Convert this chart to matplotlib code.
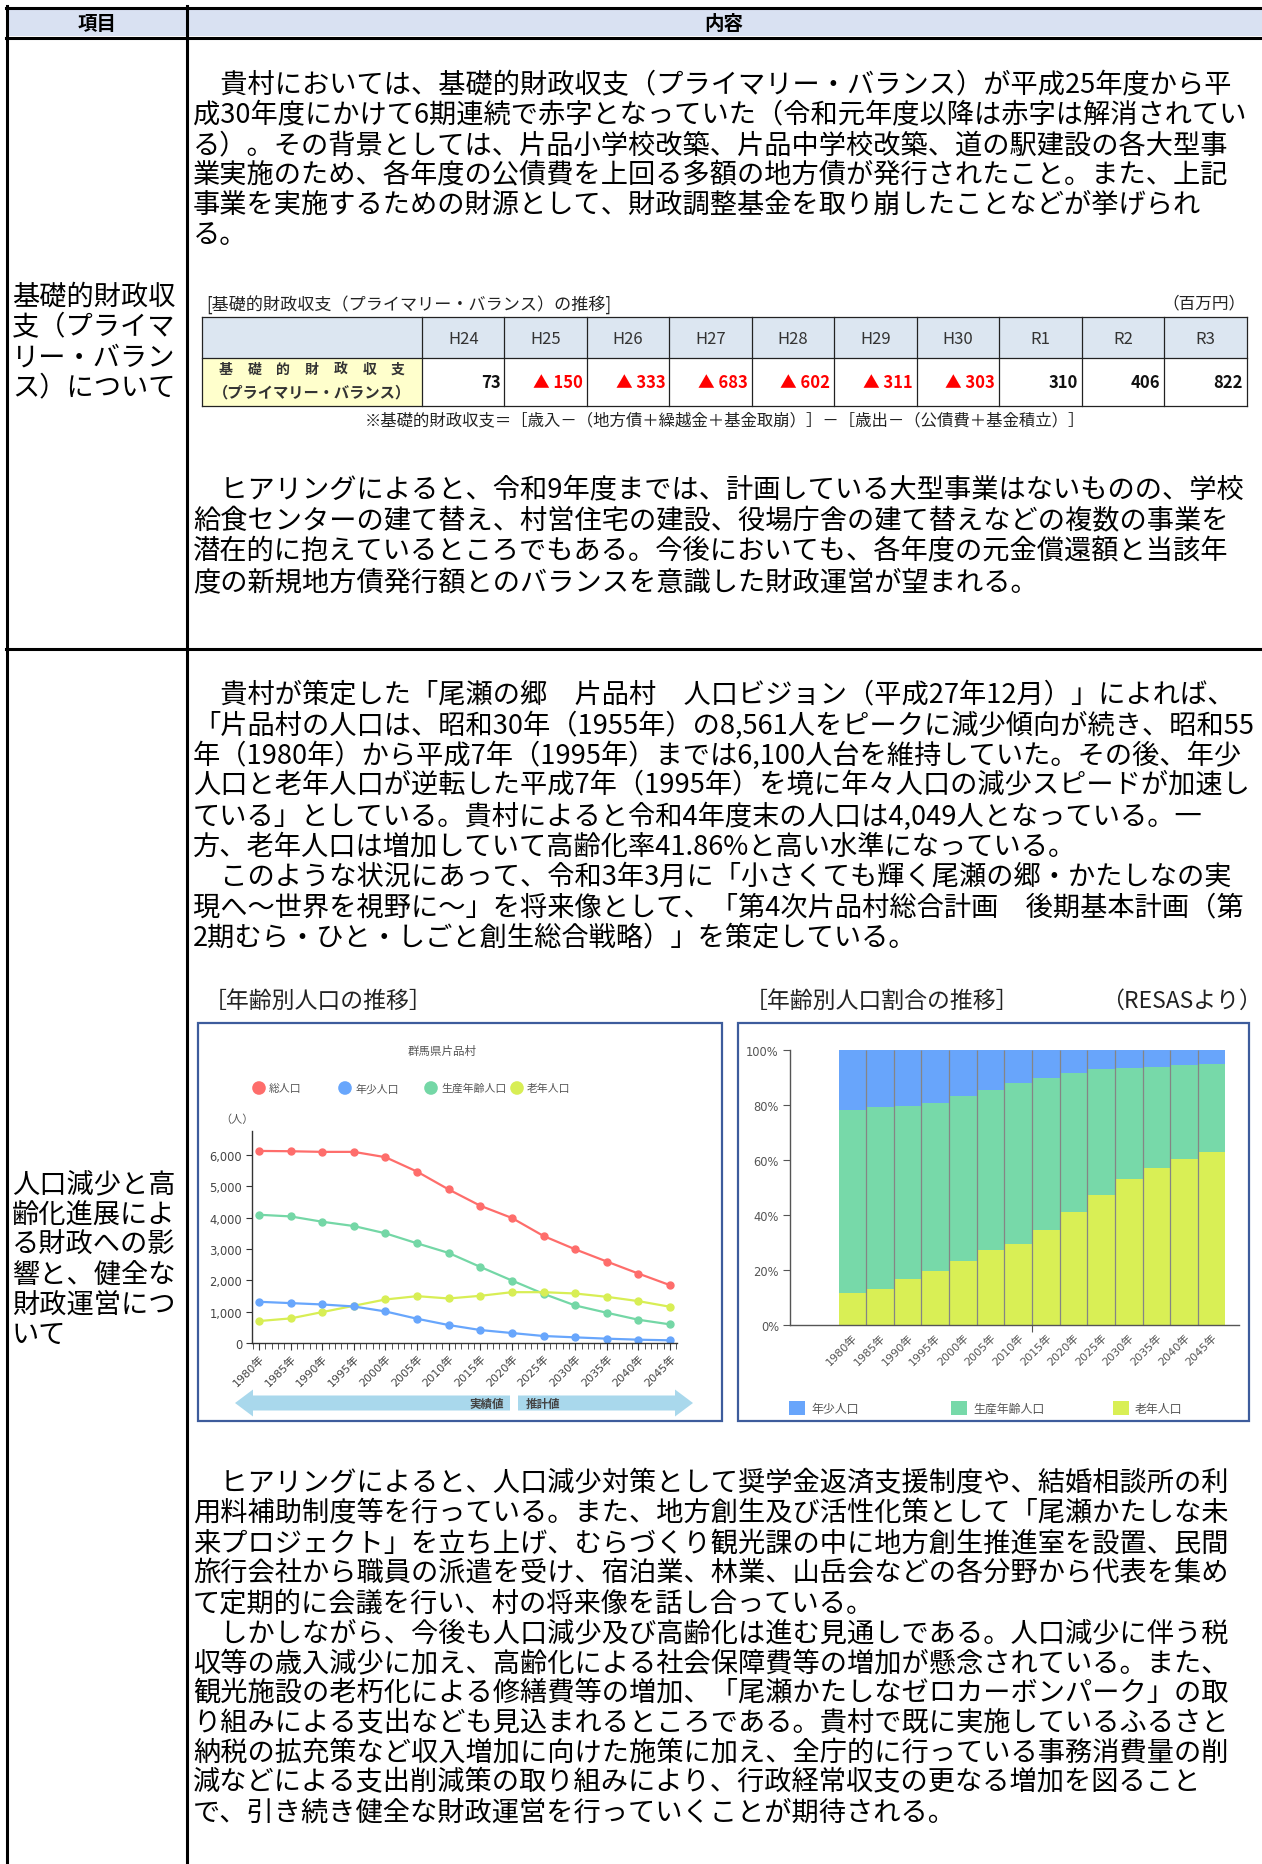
import matplotlib
matplotlib.use("Agg")
import matplotlib.pyplot as plt
from matplotlib.patches import Rectangle, Polygon, Circle
from matplotlib.ticker import MultipleLocator, FixedLocator
import numpy as np

plt.rcParams['font.family'] = ['Noto Sans CJK JP', 'DejaVu Sans']

W, H = 1262, 1865

# ---- data ----
fy_labels = ["H24", "H25", "H26", "H27", "H28", "H29", "H30", "R1", "R2", "R3"]
primary_balance = [73, -150, -333, -683, -602, -311, -303, 310, 406, 822]

years = [1980, 1985, 1990, 1995, 2000, 2005, 2010, 2015, 2020, 2025, 2030, 2035, 2040, 2045]
pop_total = [6130, 6120, 6100, 6100, 5930, 5470, 4900, 4380, 3990, 3415, 2990, 2600, 2216, 1845]
pop_young = [1315, 1273, 1230, 1166, 1007, 774, 573, 414, 318, 223, 180, 138, 106, 85]
pop_working = [4093, 4040, 3870, 3733, 3500, 3181, 2874, 2428, 1994, 1570, 1198, 965, 742, 594]
pop_old = [700, 785, 986, 1188, 1389, 1495, 1421, 1506, 1622, 1622, 1580, 1474, 1336, 1156]

ratio_young = [21.8, 20.9, 20.4, 19.4, 16.9, 14.4, 12.1, 10.1, 8.5, 7.0, 6.5, 6.0, 5.5, 5.0]
ratio_working = [66.7, 66.1, 63.0, 61.1, 59.7, 58.2, 58.5, 55.2, 50.4, 45.9, 40.5, 36.9, 34.0, 32.2]
ratio_old = [11.5, 13.0, 16.6, 19.5, 23.4, 27.4, 29.4, 34.7, 41.1, 47.1, 53.0, 57.1, 60.5, 62.8]

row1_label = ["基礎的財政収", "支（プライマ", "リー・バラン", "ス）について"]
row2_label = ["人口減少と高", "齢化進展によ", "る財政への影", "響と、健全な", "財政運営につ", "いて"]

para1 = [
    "　貴村においては、基礎的財政収支（プライマリー・バランス）が平成25年度から平",
    "成30年度にかけて6期連続で赤字となっていた（令和元年度以降は赤字は解消されてい",
    "る）。その背景としては、片品小学校改築、片品中学校改築、道の駅建設の各大型事",
    "業実施のため、各年度の公債費を上回る多額の地方債が発行されたこと。また、上記",
    "事業を実施するための財源として、財政調整基金を取り崩したことなどが挙げられ",
    "る。",
]
para2 = [
    "　ヒアリングによると、令和9年度までは、計画している大型事業はないものの、学校",
    "給食センターの建て替え、村営住宅の建設、役場庁舎の建て替えなどの複数の事業を",
    "潜在的に抱えているところでもある。今後においても、各年度の元金償還額と当該年",
    "度の新規地方債発行額とのバランスを意識した財政運営が望まれる。",
]
para3 = [
    "　貴村が策定した「尾瀬の郷　片品村　人口ビジョン（平成27年12月）」によれば、",
    "「片品村の人口は、昭和30年（1955年）の8,561人をピークに減少傾向が続き、昭和55",
    "年（1980年）から平成7年（1995年）までは6,100人台を維持していた。その後、年少",
    "人口と老年人口が逆転した平成7年（1995年）を境に年々人口の減少スピードが加速し",
    "ている」としている。貴村によると令和4年度末の人口は4,049人となっている。一",
    "方、老年人口は増加していて高齢化率41.86%と高い水準になっている。",
    "　このような状況にあって、令和3年3月に「小さくても輝く尾瀬の郷・かたしなの実",
    "現へ～世界を視野に～」を将来像として、「第4次片品村総合計画　後期基本計画（第",
    "2期むら・ひと・しごと創生総合戦略）」を策定している。",
]
para4 = [
    "　ヒアリングによると、人口減少対策として奨学金返済支援制度や、結婚相談所の利",
    "用料補助制度等を行っている。また、地方創生及び活性化策として「尾瀬かたしな未",
    "来プロジェクト」を立ち上げ、むらづくり観光課の中に地方創生推進室を設置、民間",
    "旅行会社から職員の派遣を受け、宿泊業、林業、山岳会などの各分野から代表を集め",
    "て定期的に会議を行い、村の将来像を話し合っている。",
    "　しかしながら、今後も人口減少及び高齢化は進む見通しである。人口減少に伴う税",
    "収等の歳入減少に加え、高齢化による社会保障費等の増加が懸念されている。また、",
    "観光施設の老朽化による修繕費等の増加、「尾瀬かたしなゼロカーボンパーク」の取",
    "り組みによる支出なども見込まれるところである。貴村で既に実施しているふるさと",
    "納税の拡充策など収入増加に向けた施策に加え、全庁的に行っている事務消費量の削",
    "減などによる支出削減策の取り組みにより、行政経常収支の更なる増加を図ること",
    "で、引き続き健全な財政運営を行っていくことが期待される。",
]

C_RED, C_BLUE, C_GREEN, C_YEL = '#fe6d6b', '#68a6fc', '#74d7a6', '#d8ee55'
BODY_FS = 19.6
LINE_H = 30.0


def px_axes(fig, x0, y0, x1, y1):
    return fig.add_axes([x0 / W, 1 - y1 / H, (x1 - x0) / W, (y1 - y0) / H])


fig = plt.figure(figsize=(W / 100, H / 100), dpi=100)
fig.patch.set_facecolor('white')

ov = fig.add_axes([0, 0, 1, 1])
ov.set_xlim(0, W)
ov.set_ylim(H, 0)
ov.axis('off')
ov.set_zorder(0)

# ---- frame ----
ov.add_patch(Rectangle((8, 10), W - 8, 27, facecolor='#d9e1f2', edgecolor='none'))
lw = 2.2
ov.plot([6, W], [8.5, 8.5], color='black', lw=lw)
ov.plot([6, W], [38.5, 38.5], color='black', lw=lw)
ov.plot([6, W], [649.5, 649.5], color='black', lw=lw)
ov.plot([7, 7], [7, H], color='black', lw=lw)
ov.plot([186.5, 186.5], [7, H], color='black', lw=lw)
ov.text(97, 24, "項目", ha='center', va='center', fontsize=14, fontweight='bold')
ov.text(724, 24, "内容", ha='center', va='center', fontsize=14, fontweight='bold')

for i, s in enumerate(row1_label):
    ov.text(12, 297 + i * 30.3, s, ha='left', va='center', fontsize=BODY_FS)
for i, s in enumerate(row2_label):
    ov.text(12, 1185 + i * 30.1, s, ha='left', va='center', fontsize=BODY_FS)


def body(lines, y0, step=LINE_H):
    for i, s in enumerate(lines):
        ov.text(193, y0 + i * step, s, ha='left', va='center', fontsize=BODY_FS)


body(para1, 85.6, 30.0)
body(para2, 491, 30.6)
body(para3, 695, 30.4)
body(para4, 1484, 29.9)

# ---- primary balance table ----
ov.text(206, 305, "[基礎的財政収支（プライマリー・バランス）の推移]", ha='left', va='center',
        fontsize=12.3, color='#222')
ov.text(1246, 304, "（百万円）", ha='right', va='center', fontsize=12, color='#222')
t_left, t_lab, t_right = 202, 422, 1246.5
t_top, t_mid, t_bot = 318, 359, 407
colw = (t_right - t_lab) / len(fy_labels)
ov.add_patch(Rectangle((t_left, t_top), t_right - t_left, t_mid - t_top, facecolor='#dce6f1', edgecolor='none'))
ov.add_patch(Rectangle((t_left, t_mid), t_lab - t_left, t_bot - t_mid, facecolor='#ffffcc', edgecolor='none'))
tcol = '#222'
for yy in (t_top, t_mid, t_bot):
    ov.plot([t_left, t_right], [yy, yy], color=tcol, lw=0.9)
ov.plot([t_left, t_left], [t_top, t_bot], color=tcol, lw=0.9)
for j in range(len(fy_labels) + 1):
    xx = t_lab + j * colw
    ov.plot([xx, xx], [t_top, t_bot], color=tcol, lw=0.9)
for j, (lab, v) in enumerate(zip(fy_labels, primary_balance)):
    cx = t_lab + (j + 0.5) * colw
    ov.text(cx, 339, lab, ha='center', va='center', fontsize=12, color='#333')
    txt = f"▲ {abs(v)}" if v < 0 else f"{v}"
    ov.text(t_lab + (j + 1) * colw - 4, 383, txt, ha='right', va='center', fontsize=12,
            fontweight='bold', color='#ff0000' if v < 0 else '#111')
lab_chars = "基礎的財政収支"
for k, ch in enumerate(lab_chars):
    ov.text(226 + k * (172 / (len(lab_chars) - 1)), 370, ch, ha='center', va='center', fontsize=10,
            fontweight='bold', color='#333')
ov.text((t_left + t_lab) / 2, 392, "（プライマリー・バランス）", ha='center', va='center', fontsize=11,
        fontweight='bold', color='#333')
ov.text(725, 421, "※基礎的財政収支＝［歳入－（地方債＋繰越金＋基金取崩）］－［歳出－（公債費＋基金積立）］",
        ha='center', va='center', fontsize=11.8, color='#222')

# ---- chart headings and boxes ----
ov.text(204, 1001, "［年齢別人口の推移］", ha='left', va='center', fontsize=16.5, color='#222')
ov.text(745, 1001, "［年齢別人口割合の推移］", ha='left', va='center', fontsize=16.5, color='#222')
ov.text(1262, 1001, "（RESASより）", ha='right', va='center', fontsize=16.5, color='#222')
box_c = '#3d5c9c'
ov.add_patch(Rectangle((198, 1024), 524, 398, facecolor='white', edgecolor=box_c, lw=1.6))
ov.add_patch(Rectangle((738, 1024), 511, 398, facecolor='white', edgecolor=box_c, lw=1.6))

# left chart decorations
ov.text(442, 1051, "群馬県片品村", ha='center', va='center', fontsize=8.3, color='#555')
leg1 = [("総人口", C_RED), ("年少人口", C_BLUE), ("生産年齢人口", C_GREEN), ("老年人口", C_YEL)]
for k, (name, c) in enumerate(leg1):
    x0 = 259 + k * 86
    ov.add_patch(Circle((x0, 1089), 6.8, facecolor=c, edgecolor='none'))
    ov.text(x0 + 10, 1089, name, ha='left', va='center', fontsize=7.8, color='#555')
ov.text(237, 1120, "（人）", ha='center', va='center', fontsize=8, color='#555')

arrow_c = '#a9d8ec'
ov.add_patch(Polygon([(235, 1404), (253, 1390.5), (253, 1396.5), (510, 1396.5), (510, 1411.5),
                      (253, 1411.5), (253, 1417.5)], closed=True, facecolor=arrow_c, edgecolor='none'))
ov.add_patch(Polygon([(518, 1396.5), (675, 1396.5), (675, 1390.5), (693, 1404), (675, 1417.5),
                      (675, 1411.5), (518, 1411.5)], closed=True, facecolor=arrow_c, edgecolor='none'))
ov.text(504, 1404, "実績値", ha='right', va='center', fontsize=8.3, fontweight='bold', color='#444')
ov.text(526, 1404, "推計値", ha='left', va='center', fontsize=8.3, fontweight='bold', color='#444')

# right chart legend
leg2 = [("年少人口", '#68a5fb', 789), ("生産年齢人口", '#77d9a9', 951), ("老年人口", '#d9ef55', 1113)]
for name, c, x0 in leg2:
    ov.add_patch(Rectangle((x0, 1402), 16, 14, facecolor=c, edgecolor='none'))
    ov.text(x0 + 22, 1409, name, ha='left', va='center', fontsize=8.6, color='#555')

tick_family = ['DejaVu Sans', 'Noto Sans CJK JP']

# ---- left chart: population by age ----
ax1 = px_axes(fig, 252, 1132, 677, 1344)
ax1.set_zorder(2)
ax1.patch.set_alpha(0)
for vals, c in [(pop_working, C_GREEN), (pop_old, C_YEL), (pop_young, C_BLUE), (pop_total, C_RED)]:
    ax1.plot(years, vals, color=c, lw=1.6, marker='o', ms=5, mec=c, mfc=c)
ax1.set_xlim(1978.9, 2046.1)
ax1.set_ylim(0, 6766)
for s in ('top', 'right'):
    ax1.spines[s].set_visible(False)
for s in ('left', 'bottom'):
    ax1.spines[s].set_color('#333')
    ax1.spines[s].set_linewidth(1.0)
ax1.set_yticks([0, 1000, 2000, 3000, 4000, 5000, 6000])
ax1.set_yticklabels([f"{v:,}" for v in [0, 1000, 2000, 3000, 4000, 5000, 6000]], family=tick_family)
ax1.set_xticks(years)
ax1.set_xticklabels([f"{y}年" for y in years], rotation=45, ha='right', rotation_mode='anchor',
                    family=tick_family)
ax1.xaxis.set_minor_locator(MultipleLocator(1))
ax1.tick_params(axis='y', length=4, width=0.8, colors='#333', labelsize=8.3, labelcolor='#444', pad=3)
ax1.tick_params(axis='x', which='major', length=5, width=0.8, colors='#333', labelsize=8,
                labelcolor='#444', pad=2)
ax1.tick_params(axis='x', which='minor', length=4, width=0.6, colors='#333')

# ---- right chart: population share ----
ax2 = px_axes(fig, 790, 1051, 1239, 1326)
ax2.set_zorder(2)
ax2.patch.set_alpha(0)
x = np.arange(len(years))
old = np.array(ratio_old)
work = np.array(ratio_working)
ax2.bar(x, ratio_old, width=1.0, color='#d9ef55', linewidth=0)
ax2.bar(x, ratio_working, width=1.0, bottom=old, color='#77d9a9', linewidth=0)
ax2.bar(x, ratio_young, width=1.0, bottom=old + work, color='#68a5fb', linewidth=0)
ax2.vlines(x[:-1] + 0.5, 0, 100, color='#858585', lw=0.9)
ax2.set_xlim(-2.256, 13.99)
ax2.set_ylim(0, 100)
for s in ('top', 'right'):
    ax2.spines[s].set_visible(False)
for s in ('left', 'bottom'):
    ax2.spines[s].set_color('#555')
    ax2.spines[s].set_linewidth(1.0)
ax2.set_yticks([0, 20, 40, 60, 80, 100])
ax2.set_yticklabels([f"{v}%" for v in [0, 20, 40, 60, 80, 100]], family=tick_family)
ax2.set_xticks(x)
ax2.set_xticklabels([f"{y}年" for y in years], rotation=45, ha='right', rotation_mode='anchor',
                    family=tick_family)
ax2.xaxis.set_minor_locator(FixedLocator([6.5]))
ax2.tick_params(axis='y', length=5, width=0.8, colors='#555', labelsize=8.3, labelcolor='#555', pad=3)
ax2.tick_params(axis='x', which='major', length=0, labelsize=8, labelcolor='#555', pad=5)
ax2.tick_params(axis='x', which='minor', length=5, width=0.8, colors='#555')

fig.savefig("out.png", dpi=100, facecolor='white')
